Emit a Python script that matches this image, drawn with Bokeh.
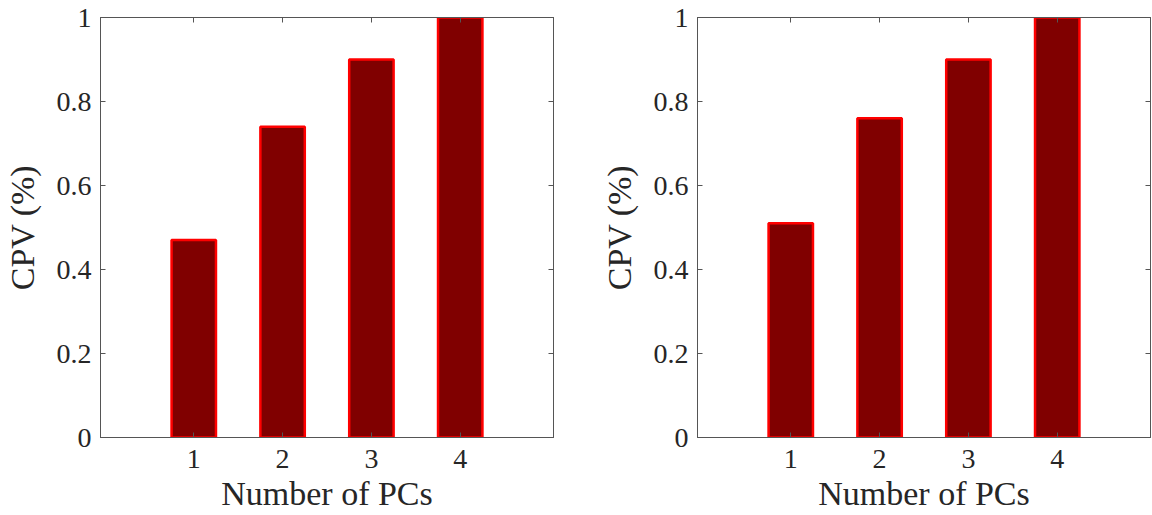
from bokeh.plotting import figure
from bokeh.layouts import row
from bokeh.models import FixedTicker, LinearAxis, Range1d, ColumnDataSource
from bokeh.embed import file_html
from bokeh.resources import INLINE

# ---- data ----
pcs = [1, 2, 3, 4]
cpv_left = [0.47, 0.74, 0.90, 1.00]
cpv_right = [0.51, 0.76, 0.90, 1.00]
y_ticks = [0, 0.2, 0.4, 0.6, 0.8, 1]
y_tick_labels = ["0", "0.2", "0.4", "0.6", "0.8", "1"]
x_ticks = [1, 2, 3, 4]
x_label = "Number of PCs"
y_label = "CPV (%)"

FONT = "Liberation Serif"
TXT = "#262626"
AX = "#555555"


def make_panel(values, border_left, border_right):
    p = figure(frame_width=453, frame_height=420,
               x_range=Range1d(-0.05, 5.05), y_range=Range1d(0, 1),
               output_backend="svg", toolbar_location=None,
               min_border_left=border_left, min_border_right=border_right,
               min_border_top=17, min_border_bottom=76)
    p.xgrid.visible = False
    p.ygrid.visible = False
    p.outline_line_color = AX
    p.outline_line_width = 1
    p.background_fill_color = "white"
    p.border_fill_color = "white"

    src = ColumnDataSource(dict(x=pcs, top=values))
    p.vbar(x="x", top="top", width=0.5, bottom=0, source=src,
           fill_color="#800000", line_color="#FF0000", line_width=2.5)

    overrides = {v: l for v, l in zip(y_ticks, y_tick_labels)}

    for ax in p.xaxis:
        ax.ticker = FixedTicker(ticks=x_ticks)
        ax.axis_label = x_label
        ax.major_label_standoff = 12
        ax.axis_label_standoff = 4
    for ax in p.yaxis:
        ax.ticker = FixedTicker(ticks=y_ticks)
        ax.major_label_overrides = overrides
        ax.axis_label = y_label
        ax.major_label_standoff = 9
        ax.axis_label_standoff = 13

    for ax in list(p.xaxis) + list(p.yaxis):
        ax.axis_line_color = AX
        ax.major_tick_line_color = AX
        ax.major_tick_in = 5
        ax.major_tick_out = 0
        ax.minor_tick_line_color = None
        ax.major_label_text_font = FONT
        ax.major_label_text_font_size = "28px"
        ax.major_label_text_color = TXT
        ax.axis_label_text_font = FONT
        ax.axis_label_text_font_size = "34px"
        ax.axis_label_text_font_style = "normal"
        ax.axis_label_text_color = TXT

    # mirrored ticks on right and top (MATLAB box style), no labels
    for loc, ticks in (("right", y_ticks), ("above", x_ticks)):
        a = LinearAxis(ticker=FixedTicker(ticks=ticks))
        a.major_label_text_color = None
        a.major_label_text_font_size = "1px"
        a.major_label_standoff = 0
        a.major_tick_in = 5
        a.major_tick_out = 0
        a.minor_tick_line_color = None
        a.axis_line_color = AX
        a.major_tick_line_color = AX
        p.add_layout(a, loc)
    return p


p1 = make_panel(cpv_left, 100, 23)
p2 = make_panel(cpv_right, 121, 2)
layout = row(p1, p2)

open("out.html", "w").write(file_html(layout, INLINE))
